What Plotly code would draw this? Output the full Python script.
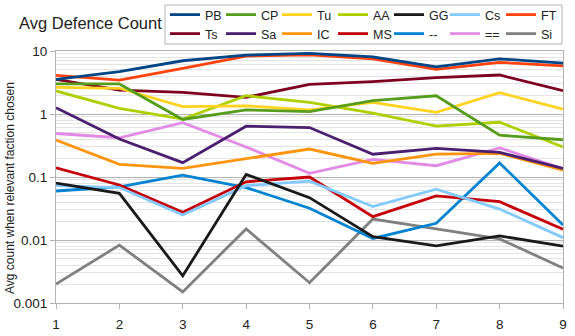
import plotly.graph_objects as go

x_vals = [1, 2, 3, 4, 5, 6, 7, 8, 9]

series_names = ["PB", "CP", "Tu", "AA", "GG", "Cs", "FT", "Ts", "Sa", "IC", "MS", "--", "==", "Si"]

PB = [3.55, 4.7, 7.0, 8.6, 9.2, 8.1, 5.6, 7.5, 6.4]
CP = [3.0, 3.0, 0.82, 1.16, 1.09, 1.63, 1.95, 0.46, 0.39]
Tu = [2.65, 2.56, 1.31, 1.35, 1.16, 1.53, 1.06, 2.18, 1.19]
AA = [2.32, 1.23, 0.83, 1.95, 1.53, 1.03, 0.64, 0.74, 0.30]
GG = [0.08, 0.055, 0.0027, 0.11, 0.047, 0.0113, 0.0081, 0.0116, 0.008]
Cs = [0.073, 0.068, 0.025, 0.073, 0.086, 0.034, 0.064, 0.031, 0.0109]
FT = [4.1, 3.46, 5.3, 8.3, 8.7, 7.5, 5.1, 6.6, 5.8]
Ts = [3.55, 2.4, 2.2, 1.84, 2.96, 3.26, 3.77, 4.16, 2.34]
Sa = [1.26, 0.40, 0.169, 0.64, 0.61, 0.23, 0.285, 0.246, 0.137]
IC = [0.387, 0.159, 0.137, 0.195, 0.278, 0.165, 0.23, 0.238, 0.129]
MS = [0.14, 0.0746, 0.0275, 0.084, 0.10, 0.0235, 0.050, 0.0405, 0.0148]
DD = [0.06, 0.07, 0.107, 0.068, 0.032, 0.0106, 0.0184, 0.167, 0.0173]
EQ = [0.49, 0.42, 0.73, 0.30, 0.114, 0.19, 0.151, 0.29, 0.135]
Si = [0.002, 0.0083, 0.0015, 0.015, 0.0021, 0.0215, 0.015, 0.0104, 0.0036]

series_values = [PB, CP, Tu, AA, GG, Cs, FT, Ts, Sa, IC, MS, DD, EQ, Si]
series_colors = ["#004586", "#579d1c", "#ffd320", "#aecf00", "#1a1a1a", "#83caff", "#ff420e",
                 "#7e0021", "#4b1f6f", "#ff950e", "#c5000b", "#0084d1", "#e28ae6", "#808080"]

# drawing order (later = on top)
draw_order = ["Si", "==", "--", "MS", "IC", "Sa", "Ts", "Cs", "GG", "AA", "Tu", "CP", "FT", "PB"]

fig = go.Figure()
for name in draw_order:
    i = series_names.index(name)
    fig.add_trace(go.Scatter(
        x=x_vals, y=series_values[i], name=name, mode="lines",
        line=dict(color=series_colors[i], width=2.8),
        legendrank=i + 1,
        legend="legend" if i < 7 else "legend2",
    ))

L, R, T, B = 56, 12, 51, 33
W, H = 575, 336
pw, ph = W - L - R, H - T - B

legend_common = dict(
    orientation="h",
    xref="container", yref="container",
    x=165 / W,
    xanchor="left", yanchor="middle",
    bgcolor="rgba(0,0,0,0)", borderwidth=0,
    font=dict(size=12.5, color="#222222"),
    entrywidth=11, entrywidthmode="pixels",
    itemwidth=30, tracegroupgap=0,
    traceorder="normal",
)

fig.update_layout(
    width=W, height=H,
    margin=dict(l=L, r=R, t=T, b=B, autoexpand=False),
    paper_bgcolor="white", plot_bgcolor="white",
    font=dict(family="Liberation Sans, Arial, sans-serif", color="#222222"),
    showlegend=True,
    legend=dict(legend_common, y=1 - 15 / H),
    legend2=dict(legend_common, y=1 - 34 / H),
    shapes=[
        dict(type="rect", xref="paper", yref="paper",
             x0=(165 - L) / pw, x1=(562 - L) / pw,
             y0=(H - B - 44) / ph, y1=(H - B - 5) / ph,
             line=dict(color="#b3b3b3", width=1), fillcolor="rgba(0,0,0,0)"),
    ],
    annotations=[
        dict(text="Avg Defence Count", x=(17 - L) / pw, y=(H - B - 23) / ph,
             xref="paper", yref="paper",
             xanchor="left", yanchor="middle", showarrow=False,
             font=dict(size=16.5, color="#222222")),
        dict(text="Avg count when relevant faction chosen", x=(10 - L) / pw, y=(H - B - 188) / ph,
             xref="paper", yref="paper", textangle=-90, xanchor="center", yanchor="middle",
             showarrow=False, font=dict(size=12, color="#222222")),
    ],
)

fig.update_xaxes(
    range=[1, 9], dtick=1, tick0=1,
    showgrid=False, zeroline=False,
    showline=True, linecolor="#b3b3b3", linewidth=1, mirror=True,
    ticks="outside", ticklen=5, tickcolor="#b3b3b3",
    ticklabelstandoff=4,
    tickfont=dict(size=13.5, color="#222222"),
)
fig.update_yaxes(
    type="log", range=[-3, 1], dtick=1,
    tickvals=[0.001, 0.01, 0.1, 1, 10], ticktext=["0.001", "0.01", "0.1", "1", "10"],
    showgrid=True, gridcolor="#b3b3b3", gridwidth=1,
    minor=dict(dtick="D1", showgrid=True, gridcolor="#e3e3e3", gridwidth=1, ticks=""),
    zeroline=False,
    showline=True, linecolor="#b3b3b3", linewidth=1, mirror=True,
    ticks="outside", ticklen=5, tickcolor="#b3b3b3",
    tickfont=dict(size=13.5, color="#222222"),
)

fig.write_html("out.html")
